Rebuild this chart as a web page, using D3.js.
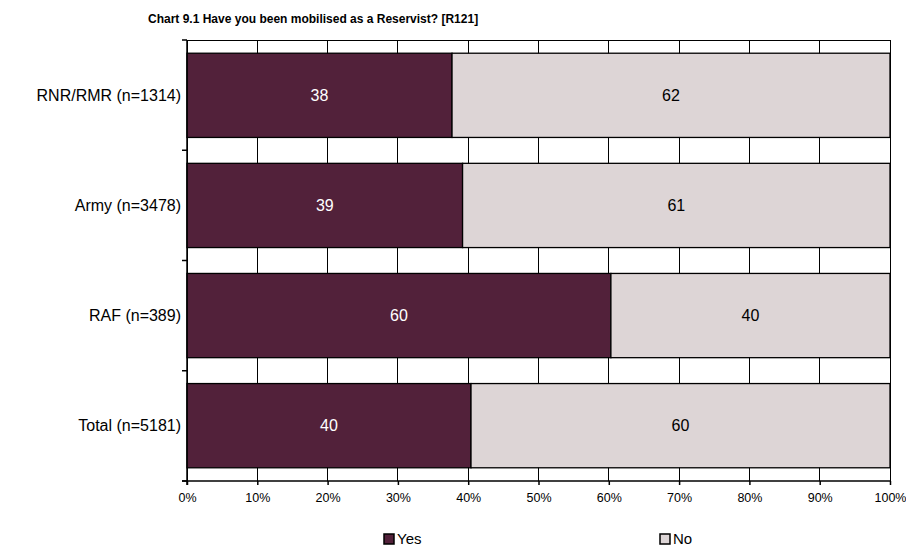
<!DOCTYPE html>
<html>
<head>
<meta charset="utf-8">
<script src="https://cdn.jsdelivr.net/npm/d3@7"></script>
<style>
  html, body { margin: 0; padding: 0; background: #ffffff; }
  svg { display: block; font-family: "Liberation Sans", Arial, sans-serif; }
</style>
</head>
<body>
<svg id="chart" width="906" height="546"></svg>
<script>
// Survey responses: share mobilised (Yes) vs not (No), per service
const categories = ["RNR/RMR (n=1314)", "Army (n=3478)", "RAF (n=389)", "Total (n=5181)"];
const yesValues = [37.7, 39.2, 60.3, 40.4];
const noValues = [62.3, 60.8, 39.7, 59.6];
const seriesNames = ["Yes", "No"];
const seriesColors = ["#52213a", "#ddd5d6"];
const labelColors = ["#ffffff", "#000000"];
const xTicks = [0, 10, 20, 30, 40, 50, 60, 70, 80, 90, 100];
const title = "Chart 9.1 Have you been mobilised as a Reservist? [R121]";

const svg = d3.select("#chart");
const plot = { left: 187, right: 890, top: 40, bottom: 481 };

const x = d3.scaleLinear().domain([0, 100]).range([plot.left, plot.right]);
const y = d3.scaleBand().domain(categories).range([plot.top, plot.bottom])
  .paddingInner(0.235).paddingOuter(0.12);

const rows = categories.map((c, i) => ({ cat: c, values: [yesValues[i], noValues[i]] }));
const stack = d3.stack().keys([0, 1]).value((d, k) => d.values[k]);
const layers = stack(rows);

// Title
svg.append("text")
  .attr("x", 148).attr("y", 23)
  .attr("font-size", 12).attr("font-weight", "bold")
  .text(title);

// Vertical gridlines
svg.append("g").selectAll("line").data(xTicks).join("line")
  .attr("x1", d => x(d)).attr("x2", d => x(d))
  .attr("y1", plot.top).attr("y2", plot.bottom)
  .attr("stroke", "#000").attr("stroke-width", 1)
  .attr("shape-rendering", "crispEdges");

// Plot frame (top and right edges)
svg.append("path")
  .attr("d", `M${plot.left},${plot.top}H${plot.right}V${plot.bottom}`)
  .attr("fill", "none").attr("stroke", "#000").attr("stroke-width", 1)
  .attr("shape-rendering", "crispEdges");

// Stacked bars
const layerG = svg.append("g").selectAll("g").data(layers).join("g")
  .attr("fill", (d, i) => seriesColors[i]);
layerG.selectAll("rect").data(d => d).join("rect")
  .attr("x", d => x(d[0]))
  .attr("y", d => y(d.data.cat))
  .attr("width", d => x(d[1]) - x(d[0]))
  .attr("height", y.bandwidth())
  .attr("stroke", "#000").attr("stroke-width", 1.3);

// Value labels
layers.forEach((layer, i) => {
  svg.append("g").selectAll("text").data(layer).join("text")
    .attr("x", d => (x(d[0]) + x(d[1])) / 2)
    .attr("y", d => y(d.data.cat) + y.bandwidth() / 2)
    .attr("dy", "0.36em")
    .attr("text-anchor", "middle")
    .attr("font-size", 16)
    .attr("fill", labelColors[i])
    .text(d => d3.format(".0f")(d[1] - d[0]));
});

// Y axis
const yAxisScale = d3.scaleLinear().domain([0, categories.length]).range([plot.top, plot.bottom]);
const yAxis = svg.append("g").attr("transform", `translate(${plot.left},0)`);
yAxis.append("line")
  .attr("x1", 0).attr("x2", 0).attr("y1", plot.top).attr("y2", plot.bottom + 4)
  .attr("stroke", "#000").attr("stroke-width", 1.5);
yAxis.selectAll("line.tick").data(d3.range(categories.length + 1)).join("line")
  .attr("class", "tick")
  .attr("x1", -5).attr("x2", 0)
  .attr("y1", d => yAxisScale(d)).attr("y2", d => yAxisScale(d))
  .attr("stroke", "#000").attr("stroke-width", 1.5);
yAxis.selectAll("text").data(categories).join("text")
  .attr("x", -6)
  .attr("y", d => y(d) + y.bandwidth() / 2)
  .attr("dy", "0.36em")
  .attr("text-anchor", "end")
  .attr("font-size", 16)
  .text(d => d);

// X axis
const xAxis = svg.append("g").attr("transform", `translate(0,${plot.bottom})`)
  .call(d3.axisBottom(x).tickValues(xTicks).tickFormat(d => d + "%").tickSize(4).tickPadding(8));
xAxis.select(".domain").attr("stroke", "#000").attr("stroke-width", 1.5)
  .attr("d", `M${plot.left - 5},0H${plot.right}`);
xAxis.selectAll(".tick line").attr("stroke", "#000").attr("stroke-width", 1.5);
xAxis.selectAll(".tick text").attr("font-size", 12.5).attr("fill", "#000")
  .attr("font-family", "Liberation Sans, Arial, sans-serif");

// Legend
const legendX = [384, 660];
const legend = svg.append("g").selectAll("g").data(seriesNames).join("g")
  .attr("transform", (d, i) => `translate(${legendX[i]},534)`);
legend.append("rect")
  .attr("width", 10).attr("height", 10)
  .attr("fill", (d, i) => seriesColors[i])
  .attr("stroke", "#000").attr("stroke-width", 1.5);
legend.append("text")
  .attr("x", 13).attr("y", 5).attr("dy", "0.36em")
  .attr("font-size", 15)
  .text(d => d);
</script>
</body>
</html>
